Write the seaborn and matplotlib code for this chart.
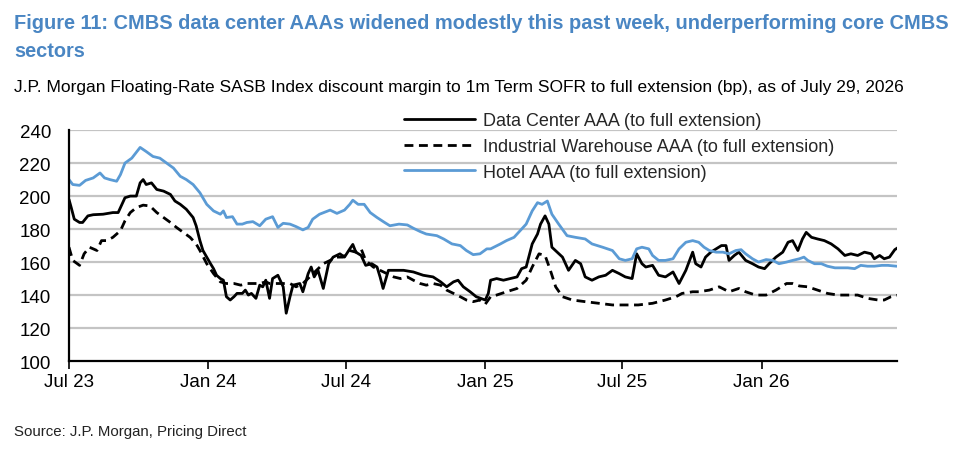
import pandas as pd
import matplotlib.pyplot as plt
import seaborn as sns

# ================= data =================
HOTEL_DATES = [
    "2023-07-29", "2023-08-03", "2023-08-12", "2023-08-20", "2023-08-30", "2023-09-08",
    "2023-09-14", "2023-09-21", "2023-09-30", "2023-10-05", "2023-10-11", "2023-10-20",
    "2023-10-31", "2023-11-08", "2023-11-17", "2023-11-26", "2023-12-05", "2023-12-14",
    "2023-12-23", "2023-12-31", "2024-01-09", "2024-01-18", "2024-01-27", "2024-02-05",
    "2024-02-14", "2024-02-18", "2024-02-22", "2024-03-01", "2024-03-07", "2024-03-14",
    "2024-03-20", "2024-03-28", "2024-04-06", "2024-04-14", "2024-04-23", "2024-04-30",
    "2024-05-07", "2024-05-16", "2024-05-24", "2024-06-02", "2024-06-09", "2024-06-15",
    "2024-06-24", "2024-07-08", "2024-07-17", "2024-07-27", "2024-08-03", "2024-08-07",
    "2024-08-14", "2024-08-22", "2024-08-30", "2024-09-08", "2024-09-18", "2024-09-25",
    "2024-10-07", "2024-10-18", "2024-10-26", "2024-11-04", "2024-11-12", "2024-11-26",
    "2024-12-05", "2024-12-16", "2024-12-27", "2025-01-04", "2025-01-13", "2025-01-22",
    "2025-01-31", "2025-02-05", "2025-02-18", "2025-02-26", "2025-03-08", "2025-03-16",
    "2025-03-24", "2025-04-01", "2025-04-08", "2025-04-14", "2025-04-21", "2025-04-27",
    "2025-05-06", "2025-05-17", "2025-05-28", "2025-06-10", "2025-06-19", "2025-07-03",
    "2025-07-16", "2025-07-25", "2025-08-02", "2025-08-11", "2025-08-17", "2025-08-24",
    "2025-09-02", "2025-09-07", "2025-09-15", "2025-09-24", "2025-10-04", "2025-10-12",
    "2025-10-21", "2025-10-30", "2025-11-07", "2025-11-14", "2025-11-21", "2025-11-30",
    "2025-12-09", "2025-12-17", "2025-12-26", "2026-01-02", "2026-01-08", "2026-01-17",
    "2026-01-25", "2026-02-04", "2026-02-13", "2026-02-21", "2026-03-03", "2026-03-11",
    "2026-03-20", "2026-03-26", "2026-03-31", "2026-04-09", "2026-04-18", "2026-04-26",
    "2026-05-06", "2026-05-15", "2026-05-23", "2026-06-01", "2026-06-09", "2026-06-18",
    "2026-06-27", "2026-07-07", "2026-07-15", "2026-07-26", "2026-07-29",
]
HOTEL_BP = [
    210, 207, 206.5, 209.5, 211, 214, 211, 210, 209, 213, 220, 223,
    229.5, 227, 224, 223, 220, 217, 212, 210, 207, 202, 195, 191,
    189, 191, 187, 187.5, 183, 183, 184, 184.5, 182, 186, 187.5, 181,
    183.5, 183, 181.5, 179.5, 181, 186, 189, 191.5, 189.5, 191.5, 195, 197.5,
    195, 195, 190, 187, 184, 182, 183, 182.5, 180.5, 178.5, 177, 176,
    174, 171, 170, 167, 164.5, 165, 168, 168, 171, 173, 175, 179,
    183, 191, 196, 195, 197, 189, 183, 176, 175, 174, 171, 169,
    167, 162, 161, 162, 168, 169, 168, 164, 161, 161, 162, 168,
    172, 173, 172, 169, 167, 166, 166, 165, 167, 167.5, 165, 162,
    160, 161.5, 161, 159, 160, 161, 162, 163, 161, 159, 159, 157.5,
    156.5, 156.5, 156.5, 156, 158, 157.5, 157.5, 158, 158, 157.5, 157.5,
]

DC_DATES = [
    "2023-07-29", "2023-08-01", "2023-08-05", "2023-08-12", "2023-08-16", "2023-08-23",
    "2023-08-30", "2023-09-12", "2023-09-25", "2023-10-02", "2023-10-07", "2023-10-11",
    "2023-10-18", "2023-10-26", "2023-10-31", "2023-11-04", "2023-11-08", "2023-11-15",
    "2023-11-22", "2023-12-01", "2023-12-10", "2023-12-16", "2023-12-23", "2023-12-31",
    "2024-01-09", "2024-01-13", "2024-01-18", "2024-01-22", "2024-01-27", "2024-02-01",
    "2024-02-05", "2024-02-09", "2024-02-14", "2024-02-18", "2024-02-22", "2024-02-27",
    "2024-03-03", "2024-03-07", "2024-03-14", "2024-03-18", "2024-03-22", "2024-03-26",
    "2024-04-01", "2024-04-06", "2024-04-10", "2024-04-14", "2024-04-19", "2024-04-23",
    "2024-04-30", "2024-05-07", "2024-05-11", "2024-05-16", "2024-05-20", "2024-05-29",
    "2024-06-02", "2024-06-09", "2024-06-13", "2024-06-17", "2024-06-22", "2024-06-29",
    "2024-07-06", "2024-07-12", "2024-07-21", "2024-07-27", "2024-08-03", "2024-08-07",
    "2024-08-11", "2024-08-18", "2024-08-24", "2024-09-01", "2024-09-08", "2024-09-12",
    "2024-09-16", "2024-09-23", "2024-10-04", "2024-10-13", "2024-10-26", "2024-11-08",
    "2024-11-21", "2024-12-01", "2024-12-09", "2024-12-18", "2024-12-24", "2024-12-31",
    "2025-01-09", "2025-01-17", "2025-01-29", "2025-02-02", "2025-02-05", "2025-02-13",
    "2025-02-22", "2025-03-03", "2025-03-12", "2025-03-18", "2025-03-24", "2025-04-01",
    "2025-04-08", "2025-04-12", "2025-04-18", "2025-04-23", "2025-04-27", "2025-05-04",
    "2025-05-11", "2025-05-19", "2025-05-28", "2025-06-04", "2025-06-10", "2025-06-19",
    "2025-06-28", "2025-07-07", "2025-07-16", "2025-07-25", "2025-08-02", "2025-08-11",
    "2025-08-17", "2025-08-24", "2025-08-29", "2025-09-07", "2025-09-15", "2025-09-24",
    "2025-10-04", "2025-10-12", "2025-10-21", "2025-10-30", "2025-11-03", "2025-11-10",
    "2025-11-16", "2025-11-23", "2025-11-30", "2025-12-07", "2025-12-13", "2025-12-17",
    "2025-12-24", "2025-12-30", "2026-01-08", "2026-01-17", "2026-01-25", "2026-02-02",
    "2026-02-08", "2026-02-17", "2026-02-26", "2026-03-05", "2026-03-11", "2026-03-18",
    "2026-03-24", "2026-03-29", "2026-04-05", "2026-04-13", "2026-04-22", "2026-05-01",
    "2026-05-10", "2026-05-19", "2026-05-27", "2026-06-05", "2026-06-14", "2026-06-23",
    "2026-06-27", "2026-07-04", "2026-07-10", "2026-07-17", "2026-07-24", "2026-07-29",
]
DC_BP = [
    198, 193, 186, 184, 184, 188,
    188.7, 189, 190, 190, 195, 199,
    200, 200, 208, 210, 207, 208,
    204, 203, 201, 197, 195, 192,
    187, 182, 173, 167, 163, 159,
    156, 152, 150, 149, 139, 137,
    139, 141, 141, 143, 140, 141,
    138, 146, 145, 149, 138, 150,
    152, 145, 129, 139, 146, 147,
    142, 153, 157, 151, 155, 144,
    159, 163, 165, 163, 168, 170.7,
    166, 164, 158, 159, 157, 151,
    144, 155, 155, 155, 154, 152,
    151, 148, 145, 148, 149, 145,
    142, 139, 137, 141, 149, 150,
    149, 150, 151, 156, 157, 171,
    177, 183, 188, 183, 169, 166,
    163, 155, 161, 159, 151, 149,
    151, 152, 155, 153, 151, 150,
    165, 159, 157, 158, 152, 151,
    154, 147, 155, 166, 159, 157,
    163, 166, 168, 170, 170, 161,
    164, 166, 161, 159, 157, 156,
    159, 163, 166, 172, 173, 167,
    174, 178, 175, 174, 173, 171,
    168, 164, 165, 164, 166, 165,
    162, 164, 162, 163, 167.5, 169,
]

IND_DATES = [
    "2023-07-29", "2023-08-03", "2023-08-12", "2023-08-18", "2023-08-25", "2023-09-04",
    "2023-09-10", "2023-09-17", "2023-09-25", "2023-10-05", "2023-10-11", "2023-10-18",
    "2023-10-26", "2023-11-04", "2023-11-13", "2023-11-22", "2023-12-01", "2023-12-10",
    "2023-12-18", "2023-12-27", "2024-01-05", "2024-01-13", "2024-01-18", "2024-01-27",
    "2024-02-05", "2024-02-14", "2024-02-22", "2024-03-03", "2024-03-12", "2024-03-20",
    "2024-03-28", "2024-04-06", "2024-04-14", "2024-04-19", "2024-05-03", "2024-05-16",
    "2024-05-24", "2024-06-02", "2024-06-11", "2024-06-20", "2024-06-29", "2024-07-08",
    "2024-07-17", "2024-07-25", "2024-08-03", "2024-08-11", "2024-08-18", "2024-08-24",
    "2024-09-03", "2024-09-12", "2024-09-21", "2024-09-30", "2024-10-09", "2024-10-18",
    "2024-10-26", "2024-11-04", "2024-11-12", "2024-11-21", "2024-12-01", "2024-12-09",
    "2024-12-18", "2024-12-27", "2025-01-04", "2025-01-13", "2025-01-22", "2025-01-29",
    "2025-02-05", "2025-02-13", "2025-02-26", "2025-03-12", "2025-03-24", "2025-04-01",
    "2025-04-10", "2025-04-18", "2025-04-25", "2025-05-02", "2025-05-11", "2025-05-24",
    "2025-06-10", "2025-06-28", "2025-07-16", "2025-08-02", "2025-08-19", "2025-09-07",
    "2025-09-24", "2025-10-08", "2025-10-16", "2025-10-30", "2025-11-07", "2025-11-21",
    "2025-12-04", "2025-12-17", "2025-12-30", "2026-01-08", "2026-01-21", "2026-02-04",
    "2026-02-17", "2026-03-03", "2026-03-11", "2026-03-20", "2026-03-31", "2026-04-13",
    "2026-04-26", "2026-05-10", "2026-05-23", "2026-06-05", "2026-06-18", "2026-07-02",
    "2026-07-10", "2026-07-19", "2026-07-29",
]
IND_BP = [
    169, 161, 158, 165, 169, 167,
    173, 173, 175, 179, 185, 190,
    193, 194.5, 194, 190, 187, 184,
    181, 178, 175, 171, 167, 159,
    153, 148, 147, 147, 146, 147,
    147, 147, 148, 147, 147, 147,
    145, 147, 151, 155, 159, 161,
    163, 163, 167, 166, 168, 161,
    157, 155, 153, 151, 150, 151,
    149, 147, 146, 147, 146, 143,
    141, 139, 137, 136, 137, 134.5,
    139, 140, 142, 144, 149, 157,
    165, 164, 155, 145, 139, 137,
    136, 135, 134, 134, 134, 135,
    137, 139, 141, 142, 142, 143,
    145, 142, 144, 142, 140, 140,
    143, 147, 147, 145.5, 145, 143,
    141, 140, 140, 140, 138, 137,
    137, 139, 140,
]

SERIES = [
    "Data Center AAA (to full extension)",
    "Industrial Warehouse AAA (to full extension)",
    "Hotel AAA (to full extension)",
]
TICK_DATES = ["2023-07-29", "2024-01-29", "2024-07-29", "2025-01-29", "2025-07-29", "2026-01-29"]
TICK_LABELS = ["Jul 23", "Jan 24", "Jul 24", "Jan 25", "Jul 25", "Jan 26"]
Y_TICKS = [100, 120, 140, 160, 180, 200, 220, 240]

TITLE_1 = "Figure 11: CMBS data center AAAs widened modestly this past week, underperforming core CMBS"
TITLE_2 = "sectors"
SUBTITLE = ("J.P. Morgan Floating-Rate SASB Index discount margin to 1m Term SOFR to full extension (bp), "
            "as of July 29, 2026")
SOURCE = "Source: J.P. Morgan, Pricing Direct"

BLUE = "#5B9BD5"
TITLE_BLUE = "#4A86C3"


def build_frame(dates, values, name):
    return pd.DataFrame({"date": pd.to_datetime(dates), "bp": values, "series": name})


def main():
    sns.set_theme(style="white")
    plt.rcParams["font.family"] = ["Liberation Sans", "DejaVu Sans"]

    df = pd.concat([
        build_frame(DC_DATES, DC_BP, SERIES[0]),
        build_frame(IND_DATES, IND_BP, SERIES[1]),
        build_frame(HOTEL_DATES, HOTEL_BP, SERIES[2]),
    ], ignore_index=True)

    fig = plt.figure(figsize=(9.54, 4.52), dpi=100)
    ax = fig.add_axes([0.0723, 0.199, 0.868, 0.511])

    # gridlines
    for y in Y_TICKS[1:]:
        ax.axhline(y, color="#C4C4C4", lw=1.6, zorder=0)

    styles = {
        SERIES[0]: dict(color="black", linestyle="-"),
        SERIES[1]: dict(color="black", linestyle=(0, (3.2, 2.0))),
        SERIES[2]: dict(color=BLUE, linestyle="-"),
    }
    for name in SERIES:
        sub = df[df["series"] == name]
        sns.lineplot(data=sub, x="date", y="bp", ax=ax, label=name,
                     linewidth=2.0, **styles[name])

    ax.set_ylim(100, 240)
    ax.set_xlim(pd.Timestamp("2023-07-29"), pd.Timestamp("2026-07-27"))
    ax.set_yticks(Y_TICKS)
    ax.set_xticks(pd.to_datetime(TICK_DATES))
    ax.set_xticklabels(TICK_LABELS)
    ax.set_xlabel("")
    ax.set_ylabel("")

    for side in ["top", "right"]:
        ax.spines[side].set_visible(False)
    for side in ["left", "bottom"]:
        ax.spines[side].set_color("black")
        ax.spines[side].set_linewidth(1.6)

    ax.tick_params(axis="y", length=0, pad=13, labelsize=13.5, colors="black")
    ax.tick_params(axis="x", direction="out", length=5.5, width=1.2, pad=3,
                   labelsize=13.5, colors="black", bottom=True)

    leg = ax.legend(loc="upper left", bbox_to_anchor=(0.405, 1.078), frameon=False,
                    fontsize=13, handlelength=3.9, handletextpad=0.45,
                    labelspacing=0.49, borderpad=0, borderaxespad=0)
    for line in leg.get_lines():
        line.set_linewidth(2.0)

    fig.text(0.0147, 0.947, TITLE_1, color=TITLE_BLUE, fontsize=14.4, fontweight="bold",
             va="center", ha="left")
    fig.text(0.0147, 0.885, TITLE_2, color=TITLE_BLUE, fontsize=14.4, fontweight="bold",
             va="center", ha="left")
    fig.text(0.0147, 0.807, SUBTITLE, color="black", fontsize=12.5, va="center", ha="left")
    fig.text(0.0147, 0.044, SOURCE, color="#222222", fontsize=10.8, va="center", ha="left")

    fig.savefig("out.png", dpi=100)
    plt.close(fig)


if __name__ == "__main__":
    main()
